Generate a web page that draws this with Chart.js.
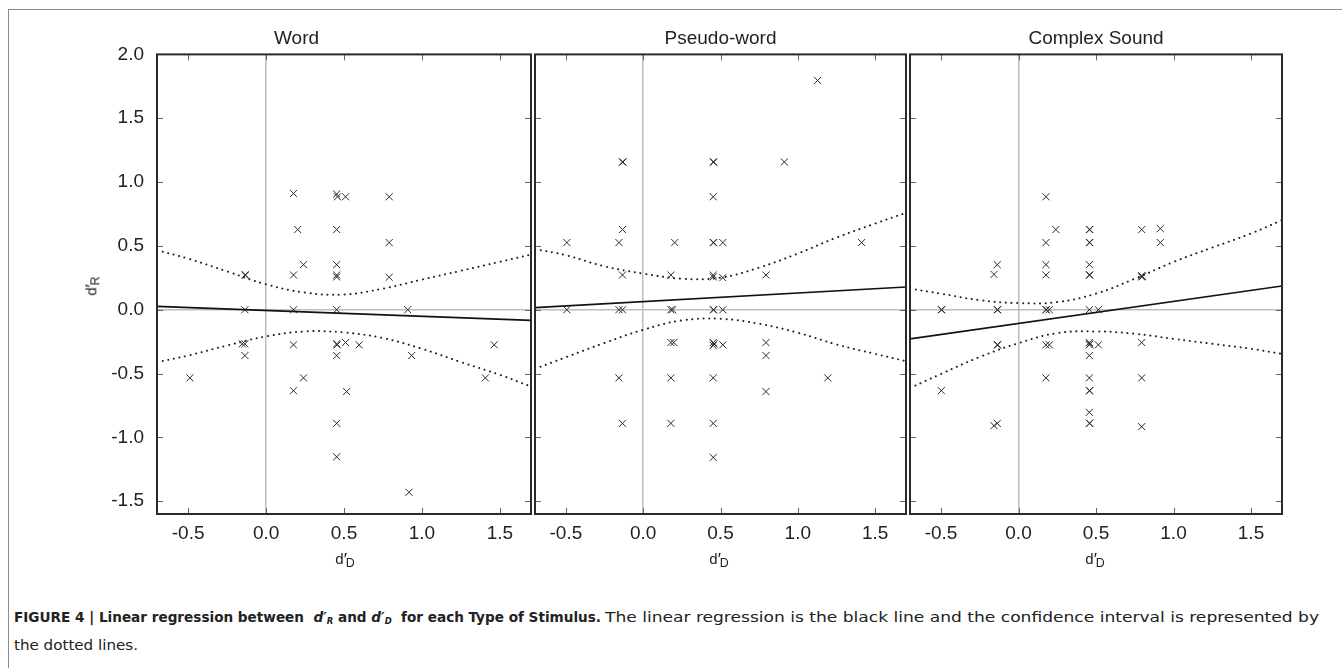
<!DOCTYPE html>
<html>
<head>
<meta charset="utf-8">
<script src="https://cdn.jsdelivr.net/npm/chart.js@4.4.1/dist/chart.umd.min.js"></script>
<style>
  html, body { margin: 0; padding: 0; background: #fff; }
  #fig { position: relative; width: 1342px; height: 668px; overflow: hidden; font-family: 'Liberation Sans', Arial, sans-serif; color: #222; }
  #frame { position: absolute; left: 8px; top: 9px; width: 1400px; height: 700px; border-top: 1.5px solid #8c8c8c; border-left: 1.5px solid #8c8c8c; }
  canvas { position: absolute; }
  .lab { position: absolute; font-size: 15px; line-height: 1; white-space: nowrap; }
  .lab .pr { font-size: 1.15em; color: #111; position: relative; top: 0.05em; }
  .lab .sb { position: relative; top: 0.22em; margin-left: -0.1em; font-size: 0.83em; }
  #ylab { transform: translate(-50%, -50%) rotate(-90deg); }
  .xl { transform: translateX(-50%); }
  .cap { position: absolute; font-family: 'DejaVu Sans Condensed', 'Liberation Sans Narrow', 'Liberation Sans', sans-serif; font-size: 14.5px; line-height: 1; color: #222; transform-origin: 0 50%; white-space: nowrap; }
  .cap sub { font-size: 0.62em; vertical-align: -0.25em; }
</style>
</head>
<body>
<div id="fig">
  <div id="frame"></div>
  <canvas id="c1" width="477" height="554" style="left:60px;top:20px"></canvas>
  <canvas id="c2" width="383" height="554" style="left:529px;top:20px"></canvas>
  <canvas id="c3" width="384" height="554" style="left:904px;top:20px"></canvas>

  <div class="lab" id="ylab" style="left:91px;top:286px">d<span class="pr">′</span><span class="sb">R</span></div>
  <div class="lab xl" style="left:345px;top:550px">d<span class="pr">′</span><span class="sb">D</span></div>
  <div class="lab xl" style="left:719px;top:550px">d<span class="pr">′</span><span class="sb">D</span></div>
  <div class="lab xl" style="left:1095px;top:550px">d<span class="pr">′</span><span class="sb">D</span></div>

  <div class="cap" id="capB" style="left:14px;top:610px"><b>FIGURE 4 | Linear regression between &nbsp;<i>d′<sub>R</sub></i> and <i>d′<sub>D</sub></i> &nbsp;for each Type of Stimulus.</b></div>
  <div class="cap" id="capR" style="left:605px;top:610px">The linear regression is the black line and the confidence interval is represented by</div>
  <div class="cap" id="capL2" style="left:14px;top:638px">the dotted lines.</div>
</div>

<script>
// axis ticks shared by the three panels
const xTicks = [-0.5, 0, 0.5, 1, 1.5];
const yTicks = [-1.5, -1, -0.5, 0, 0.5, 1, 1.5, 2];
const panelTitles = ['Word', 'Pseudo-word', 'Complex Sound'];

const ciX = [-0.7, -0.5, -0.25, 0, 0.25, 0.5, 0.75, 1, 1.25, 1.5, 1.7];
const fitX = [-0.7, 1.7];

// Word
const wordX = [0.176, 0.453, 0.458, 0.51, 0.79, 0.203, 0.453, 0.79, 0.24, 0.453,
  -0.136, -0.132, 0.176, 0.453, 0.453, 0.79, -0.136, 0.176, 0.453, 0.909,
  -0.153, -0.136, 0.176, 0.453, 0.456, 0.51, 0.597, 1.464, -0.136, 0.453, 0.934,
  -0.489, 0.24, 1.407, 0.176, 0.517, 0.453, 0.453, 0.917];
const wordY = [0.911, 0.906, 0.885, 0.885, 0.885, 0.628, 0.628, 0.526, 0.353, 0.353,
  0.272, 0.272, 0.272, 0.272, 0.257, 0.254, 0, 0, 0, 0,
  -0.267, -0.267, -0.275, -0.267, -0.275, -0.257, -0.275, -0.275, -0.359, -0.359, -0.359,
  -0.534, -0.534, -0.534, -0.634, -0.641, -0.89, -1.152, -1.43];
const wordFit = [0.026, -0.084];
const wordUpper = [0.466, 0.40, 0.30, 0.199, 0.134, 0.120, 0.165, 0.236, 0.305, 0.375, 0.432];
const wordLower = [-0.411, -0.359, -0.28, -0.209, -0.170, -0.178, -0.222, -0.306, -0.41, -0.51, -0.602];

// Pseudo-word
const pseudoX = [1.128, -0.134, -0.131, 0.453, 0.456, 0.913, 0.453, -0.134,
  -0.494, -0.157, 0.204, 0.453, 0.456, 0.515, 1.413,
  -0.134, 0.179, 0.453, 0.453, 0.515, 0.794,
  -0.494, -0.157, -0.134, 0.179, 0.19, 0.453, 0.456, 0.515,
  0.179, 0.198, 0.453, 0.453, 0.458, 0.515, 0.794, 0.794,
  -0.157, 0.179, 0.453, 1.194, 0.794, -0.134, 0.179, 0.453, 0.453];
const pseudoY = [1.796, 1.157, 1.157, 1.157, 1.157, 1.157, 0.885, 0.628,
  0.526, 0.526, 0.526, 0.526, 0.526, 0.526, 0.526,
  0.272, 0.272, 0.272, 0.257, 0.251, 0.272,
  0, 0, 0, 0, 0, 0, 0, 0,
  -0.257, -0.257, -0.257, -0.28, -0.268, -0.275, -0.257, -0.359,
  -0.534, -0.534, -0.534, -0.534, -0.641, -0.89, -0.89, -0.89, -1.157];
const pseudoFit = [0.016, 0.178];
const pseudoUpper = [0.475, 0.427, 0.34, 0.283, 0.243, 0.251, 0.33, 0.44, 0.565, 0.675, 0.759];
const pseudoLower = [-0.463, -0.372, -0.26, -0.157, -0.084, -0.071, -0.11, -0.18, -0.272, -0.346, -0.403];

// Complex Sound
const soundX = [0.177, 0.241, 0.457, 0.46, 0.795, 0.915, 0.177, 0.457, 0.46, 0.915,
  -0.137, 0.177, 0.457, -0.158, 0.177, 0.457, 0.46, 0.795, 0.795, 0.799,
  -0.498, -0.495, -0.137, -0.134, 0.177, 0.18, 0.199, 0.457, 0.515,
  -0.137, -0.134, 0.177, 0.199, 0.457, 0.457, 0.46, 0.515, 0.795, 0.457,
  0.177, 0.457, 0.795, -0.498, 0.457, 0.46, 0.457, 0.457, 0.46, -0.158, -0.137, 0.795];
const soundY = [0.885, 0.628, 0.628, 0.628, 0.628, 0.636, 0.526, 0.526, 0.526, 0.526,
  0.353, 0.353, 0.353, 0.277, 0.272, 0.272, 0.272, 0.267, 0.257, 0.262,
  0, 0, 0, 0, 0, 0, 0, 0, 0,
  -0.275, -0.275, -0.275, -0.275, -0.257, -0.275, -0.268, -0.275, -0.257, -0.359,
  -0.534, -0.534, -0.534, -0.634, -0.634, -0.634, -0.804, -0.89, -0.89, -0.908, -0.89, -0.916];
const soundFit = [-0.228, 0.186];
const soundUpper = [0.165, 0.126, 0.075, 0.052, 0.06, 0.126, 0.243, 0.374, 0.487, 0.597, 0.702];
const soundLower = [-0.613, -0.503, -0.37, -0.262, -0.183, -0.17, -0.188, -0.228, -0.267, -0.306, -0.346];

const FONT = "'Liberation Sans', Arial, sans-serif";
const INK = '#222';

function pairs(xs, ys) {
  return xs.map((x, i) => ({ x, y: ys[i] }));
}

const frameTicks = {
  id: 'frameTicks',
  afterDatasetsDraw(chart) {
    const { ctx, chartArea: a, scales: { x, y } } = chart;
    ctx.save();
    ctx.strokeStyle = '#666';
    ctx.lineWidth = 1;
    ctx.beginPath();
    xTicks.forEach((v) => {
      const px = Math.round(x.getPixelForValue(v)) + 0.5;
      ctx.moveTo(px, a.top); ctx.lineTo(px, a.top + 6);
      ctx.moveTo(px, a.bottom); ctx.lineTo(px, a.bottom - 6);
    });
    yTicks.forEach((v) => {
      const py = Math.round(y.getPixelForValue(v)) + 0.5;
      ctx.moveTo(a.left, py); ctx.lineTo(a.left + 6, py);
      ctx.moveTo(a.right, py); ctx.lineTo(a.right - 6, py);
    });
    ctx.stroke();
    ctx.strokeStyle = '#2b2b2b';
    ctx.lineWidth = 2;
    ctx.strokeRect(a.left, a.top, a.width, a.height);
    ctx.restore();
  }
};

function zeroLine(ctx) {
  return ctx.tick && ctx.tick.value === 0 ? '#bdbdbd' : 'rgba(0,0,0,0)';
}

function makePanel(id, title, xs, ys, fit, upper, lower, showY) {
  const dotted = {
    showLine: true,
    pointRadius: 0,
    borderColor: '#222',
    borderWidth: 2,
    borderDash: [0.1, 5.6],
    borderCapStyle: 'round',
    tension: 0.4
  };

  return new Chart(document.getElementById(id), {
    type: 'scatter',
    data: {
      datasets: [
        { ...dotted, data: pairs(ciX, upper) },
        { ...dotted, data: pairs(ciX, lower) },
        {
          data: pairs(fitX, fit),
          showLine: true,
          pointRadius: 0,
          borderColor: '#111',
          borderWidth: 1.7
        },
        {
          data: pairs(xs, ys),
          pointStyle: 'crossRot',
          pointRadius: 5,
          pointBorderWidth: 1,
          borderColor: '#2a2a2a',
          backgroundColor: '#2a2a2a'
        }
      ]
    },
    options: {
      responsive: false,
      animation: false,
      events: [],
      layout: { padding: { left: showY ? 0 : 4, right: 4, top: 0, bottom: 0 } },
      plugins: {
        legend: { display: false },
        tooltip: { enabled: false },
        title: {
          display: true,
          text: title,
          color: INK,
          font: { family: FONT, size: 19, weight: 'normal' },
          padding: { top: 7.8, bottom: 3.8 }
        }
      },
      scales: {
        x: {
          type: 'linear',
          min: -0.7,
          max: 1.7,
          afterBuildTicks: (s) => { s.ticks = xTicks.map((value) => ({ value })); },
          afterFit: (s) => { s.height = 60; },
          ticks: {
            callback: (v) => v.toFixed(1),
            color: INK,
            font: { family: FONT, size: 19 },
            padding: 8,
            maxRotation: 0,
            autoSkip: false
          },
          grid: { drawTicks: false, color: zeroLine, lineWidth: 1.5 },
          border: { display: false }
        },
        y: {
          type: 'linear',
          min: -1.6,
          max: 2.0,
          afterBuildTicks: (s) => { s.ticks = yTicks.map((value) => ({ value })); },
          afterFit: (s) => { s.width = showY ? 97 : 0; },
          ticks: {
            display: showY,
            callback: (v) => v.toFixed(1),
            color: INK,
            font: { family: FONT, size: 19 },
            padding: 13
          },
          grid: { drawTicks: false, color: zeroLine, lineWidth: 1.5 },
          border: { display: false }
        }
      }
    },
    plugins: [frameTicks]
  });
}

makePanel('c1', panelTitles[0], wordX, wordY, wordFit, wordUpper, wordLower, true);
makePanel('c2', panelTitles[1], pseudoX, pseudoY, pseudoFit, pseudoUpper, pseudoLower, false);
makePanel('c3', panelTitles[2], soundX, soundY, soundFit, soundUpper, soundLower, false);

// squeeze each caption piece to the width it has in print
function fitWidth(id, target) {
  const el = document.getElementById(id);
  el.style.transform = `scaleX(${target / el.getBoundingClientRect().width})`;
}
fitWidth('capB', 587);
fitWidth('capR', 714);
fitWidth('capL2', 124);
</script>
</body>
</html>
